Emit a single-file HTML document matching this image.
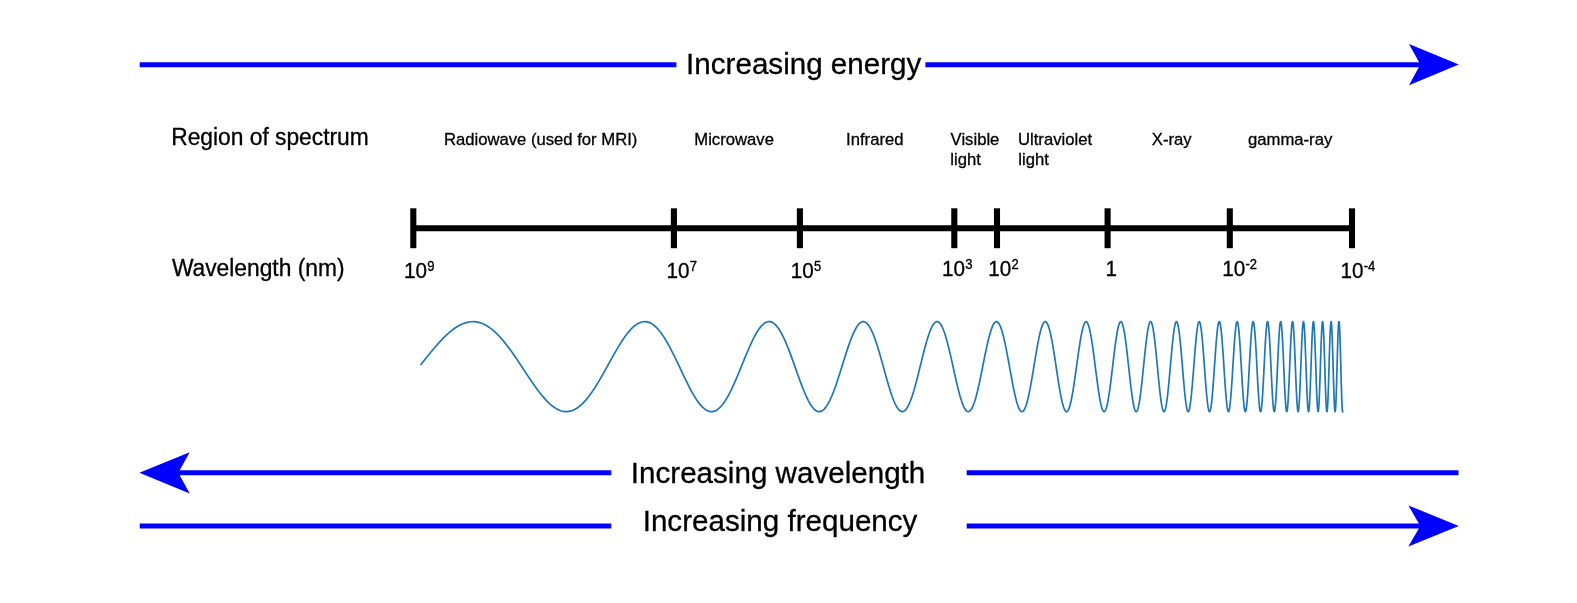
<!DOCTYPE html>
<html><head><meta charset="utf-8"><title>Electromagnetic spectrum</title>
<style>
html,body{margin:0;padding:0;background:#fff;}
svg{display:block;will-change:transform;}
text{font-family:"Liberation Sans",Arial,Helvetica,sans-serif;fill:#000;stroke:#000;stroke-width:0.3px;}
</style></head>
<body>
<svg width="1577" height="603" viewBox="0 0 1577 603">
<rect width="1577" height="603" fill="#fff"/>
<!-- blue arrows -->
<g stroke="#0000ff" stroke-width="5" fill="none">
<line x1="139.7" y1="64.7" x2="676.4" y2="64.7"/>
<line x1="925.4" y1="64.7" x2="1422" y2="64.7"/>
<line x1="178" y1="472.7" x2="611.3" y2="472.7"/>
<line x1="966.7" y1="472.7" x2="1458.5" y2="472.7"/>
<line x1="139.7" y1="525.9" x2="611.3" y2="525.9"/>
<line x1="966.7" y1="525.9" x2="1422" y2="525.9"/>
</g>
<g fill="#0000ff">
<polygon points="1458.8,64.6 1409,44.1 1420.3,64.6 1409,85.2"/>
<polygon points="139.4,472.8 189.7,452.3 178.3,472.8 189.7,493.4"/>
<polygon points="1458.8,525.9 1408.4,505.4 1420.3,525.9 1408.4,546.5"/>
</g>
<!-- big labels -->
<text x="686.1" y="74.1" font-size="29.6">Increasing energy</text>
<text x="630.8" y="483.1" font-size="29.6">Increasing wavelength</text>
<text x="642.7" y="531.3" font-size="29.6">Increasing frequency</text>
<!-- left labels -->
<text transform="translate(171.2 145.0) scale(1 1.05)" font-size="22.8">Region of spectrum</text>
<text transform="translate(171.9 275.8) scale(1 1.05)" font-size="22.8">Wavelength (nm)</text>
<!-- region names -->
<text x="443.9" y="145.1" font-size="16.67" stroke-width="0.15">Radiowave (used for MRI)</text>
<text x="694.3" y="145.1" font-size="16.67" stroke-width="0.15">Microwave</text>
<text x="846.1" y="145.1" font-size="16.67" stroke-width="0.15">Infrared</text>
<text x="950.6" y="145.1" font-size="16.67" stroke-width="0.15">Visible</text>
<text x="950.3" y="165.0" font-size="16.67" stroke-width="0.15">light</text>
<text x="1018.0" y="145.1" font-size="16.67" stroke-width="0.15">Ultraviolet</text>
<text x="1018.3" y="165.0" font-size="16.67" stroke-width="0.15">light</text>
<text x="1151.8" y="145.1" font-size="16.67" stroke-width="0.15">X-ray</text>
<text x="1248.0" y="145.1" font-size="16.67" stroke-width="0.15">gamma-ray</text>

<!-- axis -->
<g stroke="#000" stroke-width="6.1" fill="none">
<line x1="413.3" y1="228.2" x2="1352" y2="228.2"/>
<line x1="413.3" y1="208.3" x2="413.3" y2="248.2"/><line x1="673.9" y1="208.3" x2="673.9" y2="248.2"/><line x1="799.9" y1="208.3" x2="799.9" y2="248.2"/><line x1="954.3" y1="208.3" x2="954.3" y2="248.2"/><line x1="997.0" y1="208.3" x2="997.0" y2="248.2"/><line x1="1107.6" y1="208.3" x2="1107.6" y2="248.2"/><line x1="1229.8" y1="208.3" x2="1229.8" y2="248.2"/><line x1="1352.0" y1="208.3" x2="1352.0" y2="248.2"/>
</g>
<text transform="translate(404.0 277.8) scale(1 1.07)" font-size="20.7">10<tspan font-size="13" dy="-6.6" dx="0.3">9</tspan></text>
<text transform="translate(666.5 277.8) scale(1 1.07)" font-size="20.7">10<tspan font-size="13" dy="-6.6" dx="0.3">7</tspan></text>
<text transform="translate(790.7 277.8) scale(1 1.07)" font-size="20.7">10<tspan font-size="13" dy="-6.6" dx="0.3">5</tspan></text>
<text transform="translate(942.0 275.8) scale(1 1.07)" font-size="20.7">10<tspan font-size="13" dy="-6.6" dx="0.3">3</tspan></text>
<text transform="translate(988.3 275.8) scale(1 1.07)" font-size="20.7">10<tspan font-size="13" dy="-6.6" dx="0.3">2</tspan></text>
<text transform="translate(1105.5 275.8) scale(1 1.07)" font-size="20.7">1</text>
<text transform="translate(1222.2 275.8) scale(1 1.07)" font-size="20.7">10<tspan font-size="13" dy="-6.6" dx="0.3">-2</tspan></text>
<text transform="translate(1340.4 277.8) scale(1 1.07)" font-size="20.7">10<tspan font-size="13" dy="-6.6" dx="0.3">-4</tspan></text>

<!-- wave -->
<path d="M421.06 364.36 L425.73 358.51 L430.36 352.79 L434.95 347.31 L439.50 342.16 L444.01 337.43 L448.49 333.21 L452.93 329.55 L457.34 326.53 L461.71 324.20 L466.05 322.59 L470.35 321.74 L474.62 321.66 L478.85 322.35 L483.05 323.80 L487.22 325.98 L491.35 328.86 L495.46 332.38 L499.53 336.50 L503.57 341.13 L507.57 346.19 L511.55 351.61 L515.50 357.29 L519.42 363.12 L523.30 369.02 L527.16 374.87 L530.99 380.59 L534.79 386.06 L538.56 391.21 L542.31 395.93 L546.02 400.15 L549.71 403.80 L553.37 406.81 L557.01 409.13 L560.62 410.72 L564.20 411.56 L567.75 411.64 L571.28 410.94 L574.79 409.48 L578.27 407.29 L581.72 404.40 L585.15 400.86 L588.56 396.74 L591.94 392.10 L595.30 387.03 L598.64 381.61 L601.95 375.93 L605.23 370.10 L608.50 364.20 L611.74 358.35 L614.96 352.63 L618.16 347.16 L621.34 342.03 L624.49 337.31 L627.63 333.10 L630.74 329.46 L633.83 326.46 L636.90 324.14 L639.95 322.56 L642.98 321.73 L645.99 321.67 L648.97 322.38 L651.94 323.85 L654.89 326.05 L657.82 328.95 L660.73 332.49 L663.62 336.62 L666.50 341.26 L669.35 346.34 L672.19 351.77 L675.01 357.45 L677.80 363.29 L680.59 369.18 L683.35 375.03 L686.10 380.74 L688.82 386.21 L691.54 391.34 L694.23 396.05 L696.91 400.26 L699.57 403.89 L702.21 406.88 L704.84 409.18 L707.45 410.76 L710.04 411.58 L712.62 411.63 L715.19 410.91 L717.73 409.43 L720.26 407.21 L722.78 404.31 L725.28 400.75 L727.77 396.62 L730.24 391.97 L732.69 386.89 L735.14 381.46 L737.56 375.77 L739.97 369.93 L742.37 364.04 L744.75 358.18 L747.12 352.48 L749.48 347.01 L751.82 341.89 L754.15 337.18 L756.46 332.99 L758.76 329.36 L761.05 326.38 L763.32 324.09 L765.58 322.52 L767.83 321.72 L770.07 321.68 L772.29 322.41 L774.50 323.90 L776.70 326.12 L778.88 329.04 L781.05 332.60 L783.21 336.74 L785.36 341.40 L787.49 346.49 L789.62 351.92 L791.73 357.61 L793.83 363.45 L795.92 369.35 L797.99 375.20 L800.06 380.90 L802.11 386.36 L804.15 391.48 L806.18 396.18 L808.20 400.37 L810.21 403.98 L812.21 406.95 L814.20 409.24 L816.18 410.79 L818.14 411.59 L820.10 411.62 L822.04 410.87 L823.98 409.37 L825.90 407.14 L827.81 404.22 L829.72 400.65 L831.61 396.50 L833.50 391.83 L835.37 386.74 L837.23 381.30 L839.09 375.61 L840.93 369.77 L842.77 363.87 L844.59 358.02 L846.41 352.32 L848.21 346.87 L850.01 341.75 L851.80 337.06 L853.58 332.88 L855.35 329.27 L857.11 326.31 L858.86 324.04 L860.60 322.49 L862.34 321.71 L864.06 321.69 L865.78 322.44 L867.49 323.95 L869.19 326.19 L870.88 329.13 L872.56 332.71 L874.23 336.87 L875.90 341.54 L877.56 346.64 L879.20 352.08 L880.85 357.77 L882.48 363.61 L884.10 369.51 L885.72 375.36 L887.33 381.06 L888.93 386.51 L890.52 391.62 L892.11 396.30 L893.69 400.48 L895.26 404.07 L896.82 407.03 L898.38 409.29 L899.93 410.82 L901.47 411.60 L903.00 411.61 L904.53 410.84 L906.05 409.32 L907.56 407.07 L909.06 404.13 L910.56 400.54 L912.05 396.37 L913.53 391.70 L915.01 386.59 L916.48 381.14 L917.94 375.45 L919.40 369.60 L920.85 363.71 L922.29 357.86 L923.73 352.17 L925.15 346.72 L926.58 341.61 L927.99 336.94 L929.40 332.77 L930.81 329.18 L932.20 326.24 L933.59 323.98 L934.98 322.46 L936.36 321.69 L937.73 321.70 L939.09 322.47 L940.45 324.01 L941.81 326.27 L943.15 329.22 L944.50 332.82 L945.83 336.99 L947.16 341.67 L948.49 346.78 L949.80 352.23 L951.12 357.93 L952.42 363.78 L953.72 369.67 L955.02 375.52 L956.31 381.21 L957.59 386.65 L958.87 391.76 L960.14 396.43 L961.41 400.59 L962.67 404.16 L963.92 407.10 L965.17 409.34 L966.42 410.86 L967.66 411.61 L968.89 411.60 L970.12 410.81 L971.35 409.27 L972.57 407.00 L973.78 404.03 L974.99 400.43 L976.19 396.25 L977.39 391.56 L978.58 386.44 L979.77 380.99 L980.96 375.29 L982.13 369.44 L983.31 363.54 L984.48 357.70 L985.64 352.01 L986.80 346.57 L987.95 341.48 L989.10 336.81 L990.25 332.66 L991.39 329.09 L992.52 326.16 L993.65 323.93 L994.78 322.43 L995.90 321.68 L997.02 321.71 L998.13 322.51 L999.24 324.06 L1000.34 326.34 L1001.44 329.31 L1002.54 332.92 L1003.63 337.11 L1004.71 341.81 L1005.79 346.93 L1006.87 352.39 L1007.94 358.09 L1009.01 363.94 L1010.08 369.84 L1011.14 375.68 L1012.19 381.37 L1013.24 386.80 L1014.29 391.89 L1015.34 396.55 L1016.38 400.69 L1017.41 404.26 L1018.44 407.17 L1019.47 409.40 L1020.49 410.89 L1021.51 411.62 L1022.53 411.58 L1023.54 410.78 L1024.55 409.21 L1025.55 406.92 L1026.55 403.94 L1027.55 400.32 L1028.54 396.12 L1029.53 391.42 L1030.51 386.29 L1031.49 380.83 L1032.47 375.13 L1033.44 369.27 L1034.41 363.38 L1035.38 357.54 L1036.34 351.85 L1037.30 346.42 L1038.25 341.34 L1039.21 336.69 L1040.15 332.55 L1041.10 329.00 L1042.04 326.09 L1042.98 323.88 L1043.91 322.40 L1044.84 321.67 L1045.77 321.72 L1046.69 322.54 L1047.61 324.11 L1048.53 326.41 L1049.44 329.40 L1050.35 333.03 L1051.26 337.24 L1052.16 341.95 L1053.06 347.08 L1053.96 352.55 L1054.85 358.25 L1055.74 364.11 L1056.63 370.00 L1057.51 375.84 L1058.39 381.52 L1059.27 386.95 L1060.15 392.03 L1061.02 396.67 L1061.89 400.80 L1062.75 404.35 L1063.61 407.24 L1064.47 409.45 L1065.33 410.92 L1066.18 411.63 L1067.03 411.57 L1067.88 410.74 L1068.72 409.16 L1069.56 406.85 L1070.40 403.85 L1071.23 400.21 L1072.06 396.00 L1072.89 391.28 L1073.72 386.15 L1074.54 380.68 L1075.36 374.96 L1076.18 369.11 L1077.00 363.21 L1077.81 357.38 L1078.62 351.70 L1079.42 346.28 L1080.23 341.20 L1081.03 336.57 L1081.82 332.45 L1082.62 328.91 L1083.41 326.02 L1084.20 323.83 L1084.99 322.37 L1085.77 321.67 L1086.56 321.73 L1087.33 322.57 L1088.11 324.17 L1088.88 326.49 L1089.66 329.50 L1090.42 333.14 L1091.19 337.36 L1091.95 342.09 L1092.71 347.23 L1093.47 352.70 L1094.23 358.42 L1094.98 364.27 L1095.73 370.17 L1096.48 376.00 L1097.23 381.68 L1097.97 387.10 L1098.71 392.16 L1099.45 396.79 L1100.18 400.91 L1100.92 404.44 L1101.65 407.32 L1102.38 409.50 L1103.10 410.95 L1103.83 411.64 L1104.55 411.56 L1105.27 410.71 L1105.99 409.11 L1106.70 406.77 L1107.41 403.76 L1108.12 400.10 L1108.83 395.87 L1109.54 391.15 L1110.24 386.00 L1110.94 380.52 L1111.64 374.80 L1112.33 368.95 L1113.03 363.05 L1113.72 357.22 L1114.41 351.54 L1115.10 346.13 L1115.78 341.07 L1116.46 336.44 L1117.15 332.34 L1117.82 328.82 L1118.50 325.95 L1119.18 323.78 L1119.85 322.34 L1120.52 321.66 L1121.19 321.75 L1121.85 322.61 L1122.52 324.22 L1123.18 326.56 L1123.84 329.59 L1124.49 333.25 L1125.15 337.49 L1125.80 342.22 L1126.46 347.38 L1127.10 352.86 L1127.75 358.58 L1128.40 364.44 L1129.04 370.33 L1129.68 376.16 L1130.32 381.83 L1130.96 387.24 L1131.60 392.30 L1132.23 396.92 L1132.86 401.02 L1133.49 404.53 L1134.12 407.39 L1134.75 409.55 L1135.37 410.98 L1135.99 411.65 L1136.61 411.55 L1137.23 410.68 L1137.85 409.05 L1138.46 406.70 L1139.07 403.66 L1139.69 399.99 L1140.29 395.75 L1140.90 391.01 L1141.51 385.85 L1142.11 380.36 L1142.71 374.64 L1143.31 368.78 L1143.91 362.89 L1144.51 357.06 L1145.10 351.39 L1145.70 345.98 L1146.29 340.93 L1146.88 336.32 L1147.46 332.23 L1148.05 328.73 L1148.63 325.88 L1149.22 323.73 L1149.80 322.31 L1150.38 321.65 L1150.95 321.76 L1151.53 322.64 L1152.10 324.28 L1152.68 326.64 L1153.25 329.69 L1153.82 333.36 L1154.38 337.61 L1154.95 342.36 L1155.51 347.53 L1156.08 353.02 L1156.64 358.74 L1157.20 364.60 L1157.76 370.50 L1158.31 376.32 L1158.87 381.99 L1159.42 387.39 L1159.97 392.43 L1160.52 397.04 L1161.07 401.12 L1161.62 404.61 L1162.16 407.46 L1162.70 409.60 L1163.25 411.01 L1163.79 411.66 L1164.33 411.53 L1164.86 410.64 L1165.40 408.99 L1165.93 406.62 L1166.47 403.57 L1167.00 399.88 L1167.53 395.62 L1168.06 390.87 L1168.58 385.70 L1169.11 380.21 L1169.63 374.48 L1170.16 368.62 L1170.68 362.72 L1171.20 356.89 L1171.71 351.23 L1172.23 345.84 L1172.75 340.80 L1173.26 336.20 L1173.77 332.13 L1174.28 328.64 L1174.79 325.81 L1175.30 323.68 L1175.81 322.28 L1176.32 321.64 L1176.82 321.78 L1177.32 322.68 L1177.82 324.33 L1178.32 326.71 L1178.82 329.78 L1179.32 333.48 L1179.82 337.74 L1180.31 342.50 L1180.80 347.67 L1181.30 353.17 L1181.79 358.90 L1182.28 364.77 L1182.76 370.66 L1183.25 376.49 L1183.74 382.14 L1184.22 387.54 L1184.70 392.57 L1185.19 397.16 L1185.67 401.23 L1186.14 404.70 L1186.62 407.53 L1187.10 409.65 L1187.57 411.04 L1188.05 411.66 L1188.52 411.52 L1188.99 410.60 L1189.46 408.94 L1189.93 406.55 L1190.40 403.47 L1190.86 399.77 L1191.33 395.50 L1191.79 390.73 L1192.26 385.55 L1192.72 380.05 L1193.18 374.32 L1193.64 368.45 L1194.10 362.56 L1194.55 356.73 L1195.01 351.08 L1195.46 345.69 L1195.92 340.66 L1196.37 336.08 L1196.82 332.02 L1197.27 328.55 L1197.72 325.74 L1198.17 323.63 L1198.61 322.25 L1199.06 321.63 L1199.50 321.79 L1199.94 322.71 L1200.39 324.39 L1200.83 326.79 L1201.27 329.87 L1201.70 333.59 L1202.14 337.87 L1202.58 342.64 L1203.01 347.82 L1203.45 353.33 L1203.88 359.07 L1204.31 364.93 L1204.74 370.82 L1205.17 376.65 L1205.60 382.30 L1206.03 387.68 L1206.45 392.70 L1206.88 397.28 L1207.30 401.33 L1207.73 404.79 L1208.15 407.59 L1208.57 409.70 L1208.99 411.06 L1209.41 411.67 L1209.83 411.50 L1210.24 410.57 L1210.66 408.88 L1211.07 406.47 L1211.49 403.38 L1211.90 399.66 L1212.31 395.37 L1212.72 390.59 L1213.13 385.40 L1213.54 379.89 L1213.95 374.15 L1214.35 368.29 L1214.76 362.39 L1215.16 356.57 L1215.57 350.93 L1215.97 345.55 L1216.37 340.53 L1216.77 335.96 L1217.17 331.91 L1217.57 328.47 L1217.97 325.67 L1218.37 323.58 L1218.76 322.22 L1219.16 321.63 L1219.55 321.81 L1219.94 322.75 L1220.34 324.45 L1220.73 326.87 L1221.12 329.97 L1221.51 333.70 L1221.90 337.99 L1222.28 342.78 L1222.67 347.97 L1223.06 353.49 L1223.44 359.23 L1223.82 365.09 L1224.21 370.99 L1224.59 376.81 L1224.97 382.45 L1225.35 387.83 L1225.73 392.84 L1226.11 397.40 L1226.48 401.44 L1226.86 404.88 L1227.24 407.66 L1227.61 409.75 L1227.98 411.09 L1228.36 411.67 L1228.73 411.49 L1229.10 410.53 L1229.47 408.82 L1229.84 406.39 L1230.21 403.28 L1230.58 399.54 L1230.94 395.24 L1231.31 390.45 L1231.68 385.25 L1232.04 379.73 L1232.40 373.99 L1232.77 368.12 L1233.13 362.23 L1233.49 356.41 L1233.85 350.77 L1234.21 345.40 L1234.57 340.40 L1234.92 335.84 L1235.28 331.81 L1235.64 328.38 L1235.99 325.60 L1236.35 323.53 L1236.70 322.20 L1237.05 321.62 L1237.41 321.82 L1237.76 322.79 L1238.11 324.51 L1238.46 326.95 L1238.80 330.07 L1239.15 333.81 L1239.50 338.12 L1239.85 342.92 L1240.19 348.12 L1240.54 353.65 L1240.88 359.39 L1241.22 365.26 L1241.57 371.15 L1241.91 376.97 L1242.25 382.61 L1242.59 387.97 L1242.93 392.97 L1243.27 397.52 L1243.61 401.54 L1243.94 404.96 L1244.28 407.73 L1244.61 409.79 L1244.95 411.12 L1245.28 411.68 L1245.62 411.47 L1245.95 410.49 L1246.28 408.77 L1246.61 406.32 L1246.94 403.19 L1247.27 399.43 L1247.60 395.11 L1247.93 390.31 L1248.26 385.10 L1248.59 379.58 L1248.91 373.83 L1249.24 367.96 L1249.56 362.07 L1249.89 356.25 L1250.21 350.62 L1250.53 345.26 L1250.85 340.26 L1251.17 335.72 L1251.50 331.71 L1251.81 328.29 L1252.13 325.54 L1252.45 323.48 L1252.77 322.17 L1253.09 321.62 L1253.40 321.84 L1253.72 322.83 L1254.03 324.56 L1254.35 327.02 L1254.66 330.16 L1254.97 333.93 L1255.29 338.25 L1255.60 343.06 L1255.91 348.27 L1256.22 353.80 L1256.53 359.55 L1256.84 365.42 L1257.15 371.32 L1257.45 377.13 L1257.76 382.76 L1258.07 388.12 L1258.37 393.11 L1258.68 397.64 L1258.98 401.65 L1259.29 405.05 L1259.59 407.80 L1259.89 409.84 L1260.19 411.14 L1260.49 411.68 L1260.79 411.45 L1261.09 410.46 L1261.39 408.71 L1261.69 406.24 L1261.99 403.09 L1262.29 399.32 L1262.58 394.99 L1262.88 390.17 L1263.18 384.95 L1263.47 379.42 L1263.77 373.67 L1264.06 367.79 L1264.35 361.90 L1264.64 356.09 L1264.94 350.46 L1265.23 345.11 L1265.52 340.13 L1265.81 335.60 L1266.10 331.60 L1266.39 328.21 L1266.67 325.47 L1266.96 323.44 L1267.25 322.14 L1267.54 321.61 L1267.82 321.86 L1268.11 322.86 L1268.39 324.62 L1268.68 327.10 L1268.96 330.26 L1269.24 334.04 L1269.52 338.38 L1269.81 343.20 L1270.09 348.42 L1270.37 353.96 L1270.65 359.72 L1270.93 365.59 L1271.21 371.48 L1271.48 377.29 L1271.76 382.91 L1272.04 388.26 L1272.32 393.24 L1272.59 397.76 L1272.87 401.75 L1273.14 405.14 L1273.42 407.87 L1273.69 409.89 L1273.96 411.17 L1274.24 411.69 L1274.51 411.44 L1274.78 410.42 L1275.05 408.65 L1275.32 406.16 L1275.59 402.99 L1275.86 399.20 L1276.13 394.86 L1276.40 390.03 L1276.67 384.80 L1276.93 379.26 L1277.20 373.50 L1277.47 367.63 L1277.73 361.74 L1278.00 355.93 L1278.26 350.31 L1278.53 344.97 L1278.79 340.00 L1279.05 335.48 L1279.32 331.50 L1279.58 328.12 L1279.84 325.40 L1280.10 323.39 L1280.36 322.12 L1280.62 321.61 L1280.88 321.87 L1281.14 322.90 L1281.40 324.68 L1281.66 327.18 L1281.92 330.36 L1282.17 334.15 L1282.43 338.51 L1282.69 343.34 L1282.94 348.58 L1283.20 354.12 L1283.45 359.88 L1283.70 365.75 L1283.96 371.64 L1284.21 377.45 L1284.46 383.07 L1284.72 388.41 L1284.97 393.37 L1285.22 397.88 L1285.47 401.85 L1285.72 405.22 L1285.97 407.93 L1286.22 409.93 L1286.47 411.19 L1286.71 411.69 L1286.96 411.42 L1287.21 410.38 L1287.46 408.59 L1287.70 406.08 L1287.95 402.90 L1288.19 399.09 L1288.44 394.73 L1288.68 389.89 L1288.93 384.65 L1289.17 379.10 L1289.41 373.34 L1289.66 367.47 L1289.90 361.58 L1290.14 355.77 L1290.38 350.16 L1290.62 344.82 L1290.86 339.86 L1291.10 335.36 L1291.34 331.40 L1291.58 328.04 L1291.82 325.34 L1292.06 323.34 L1292.30 322.09 L1292.53 321.61 L1292.77 321.89 L1293.01 322.94 L1293.24 324.74 L1293.48 327.26 L1293.71 330.45 L1293.95 334.27 L1294.18 338.63 L1294.41 343.48 L1294.65 348.73 L1294.88 354.28 L1295.11 360.04 L1295.34 365.92 L1295.58 371.81 L1295.81 377.61 L1296.04 383.22 L1296.27 388.55 L1296.50 393.50 L1296.73 398.00 L1296.96 401.95 L1297.18 405.31 L1297.41 408.00 L1297.64 409.98 L1297.87 411.22 L1298.09 411.69 L1298.32 411.40 L1298.55 410.34 L1298.77 408.53 L1299.00 406.00 L1299.22 402.80 L1299.45 398.98 L1299.67 394.60 L1299.89 389.75 L1300.12 384.50 L1300.34 378.94 L1300.56 373.18 L1300.78 367.30 L1301.01 361.41 L1301.23 355.61 L1301.45 350.00 L1301.67 344.68 L1301.89 339.73 L1302.11 335.24 L1302.33 331.29 L1302.55 327.95 L1302.76 325.27 L1302.98 323.30 L1303.20 322.07 L1303.42 321.60 L1303.63 321.91 L1303.85 322.98 L1304.07 324.80 L1304.28 327.34 L1304.50 330.55 L1304.71 334.38 L1304.93 338.76 L1305.14 343.62 L1305.35 348.88 L1305.57 354.44 L1305.78 360.20 L1305.99 366.08 L1306.21 371.97 L1306.42 377.77 L1306.63 383.37 L1306.84 388.69 L1307.05 393.64 L1307.26 398.12 L1307.47 402.06 L1307.68 405.39 L1307.89 408.06 L1308.10 410.02 L1308.31 411.24 L1308.51 411.70 L1308.72 411.38 L1308.93 410.30 L1309.14 408.47 L1309.34 405.92 L1309.55 402.70 L1309.76 398.86 L1309.96 394.47 L1310.17 389.61 L1310.37 384.35 L1310.58 378.78 L1310.78 373.01 L1310.98 367.14 L1311.19 361.25 L1311.39 355.45 L1311.59 349.85 L1311.80 344.54 L1312.00 339.60 L1312.20 335.13 L1312.40 331.19 L1312.60 327.87 L1312.80 325.21 L1313.00 323.25 L1313.20 322.05 L1313.40 321.60 L1313.60 321.93 L1313.80 323.02 L1314.00 324.86 L1314.20 327.42 L1314.40 330.65 L1314.59 334.50 L1314.79 338.89 L1314.99 343.76 L1315.18 349.03 L1315.38 354.59 L1315.58 360.37 L1315.77 366.25 L1315.97 372.13 L1316.16 377.93 L1316.36 383.53 L1316.55 388.84 L1316.74 393.77 L1316.94 398.23 L1317.13 402.16 L1317.32 405.48 L1317.52 408.13 L1317.71 410.07 L1317.90 411.27 L1318.09 411.70 L1318.28 411.36 L1318.47 410.26 L1318.67 408.40 L1318.86 405.84 L1319.05 402.60 L1319.24 398.75 L1319.42 394.34 L1319.61 389.46 L1319.80 384.20 L1319.99 378.63 L1320.18 372.85 L1320.37 366.97 L1320.55 361.08 L1320.74 355.29 L1320.93 349.70 L1321.11 344.39 L1321.30 339.47 L1321.49 335.01 L1321.67 331.09 L1321.86 327.78 L1322.04 325.14 L1322.23 323.21 L1322.41 322.02 L1322.60 321.60 L1322.78 321.95 L1322.96 323.07 L1323.15 324.93 L1323.33 327.50 L1323.51 330.75 L1323.69 334.61 L1323.88 339.02 L1324.06 343.91 L1324.24 349.18 L1324.42 354.75 L1324.60 360.53 L1324.78 366.41 L1324.96 372.30 L1325.14 378.09 L1325.32 383.68 L1325.50 388.98 L1325.68 393.90 L1325.86 398.35 L1326.04 402.26 L1326.22 405.56 L1326.39 408.19 L1326.57 410.11 L1326.75 411.29 L1326.93 411.70 L1327.10 411.34 L1327.28 410.21 L1327.45 408.34 L1327.63 405.76 L1327.81 402.50 L1327.98 398.63 L1328.16 394.21 L1328.33 389.32 L1328.51 384.04 L1328.68 378.47 L1328.85 372.69 L1329.03 366.81 L1329.20 360.92 L1329.37 355.13 L1329.55 349.55 L1329.72 344.25 L1329.89 339.34 L1330.06 334.89 L1330.23 330.99 L1330.41 327.70 L1330.58 325.08 L1330.75 323.17 L1330.92 322.00 L1331.09 321.60 L1331.26 321.97 L1331.43 323.11 L1331.60 324.99 L1331.77 327.58 L1331.94 330.85 L1332.11 334.73 L1332.27 339.15 L1332.44 344.05 L1332.61 349.33 L1332.78 354.91 L1332.95 360.69 L1333.11 366.58 L1333.28 372.46 L1333.45 378.24 L1333.61 383.83 L1333.78 389.12 L1333.94 394.03 L1334.11 398.47 L1334.27 402.36 L1334.44 405.64 L1334.60 408.25 L1334.77 410.15 L1334.93 411.31 L1335.10 411.70 L1335.26 411.32 L1335.42 410.17 L1335.59 408.28 L1335.75 405.67 L1335.91 402.40 L1336.08 398.51 L1336.24 394.08 L1336.40 389.18 L1336.56 383.89 L1336.72 378.31 L1336.88 372.53 L1337.05 366.64 L1337.21 360.76 L1337.37 354.98 L1337.53 349.39 L1337.69 344.11 L1337.85 339.21 L1338.01 334.77 L1338.17 330.89 L1338.32 327.62 L1338.48 325.01 L1338.64 323.12 L1338.80 321.98 L1338.96 321.60 L1339.12 321.99 L1339.27 323.15 L1339.43 325.05 L1339.59 327.67 L1339.74 330.95 L1339.90 334.84 L1340.06 339.28 L1340.21 344.19 L1340.37 349.48 L1340.53 355.07 L1340.68 360.86 L1340.84 366.74 L1340.99 372.62 L1341.15 378.40 L1341.30 383.98 L1341.45 389.27 L1341.61 394.16 L1341.76 398.58 L1341.92 402.46 L1342.07 405.72 L1342.22 408.32 L1342.37 410.20 L1342.53 411.33 L1342.68 411.70" fill="none" stroke="#1f77b4" stroke-width="1.7" stroke-linejoin="round" stroke-linecap="square"/>
</svg>
</body></html>
